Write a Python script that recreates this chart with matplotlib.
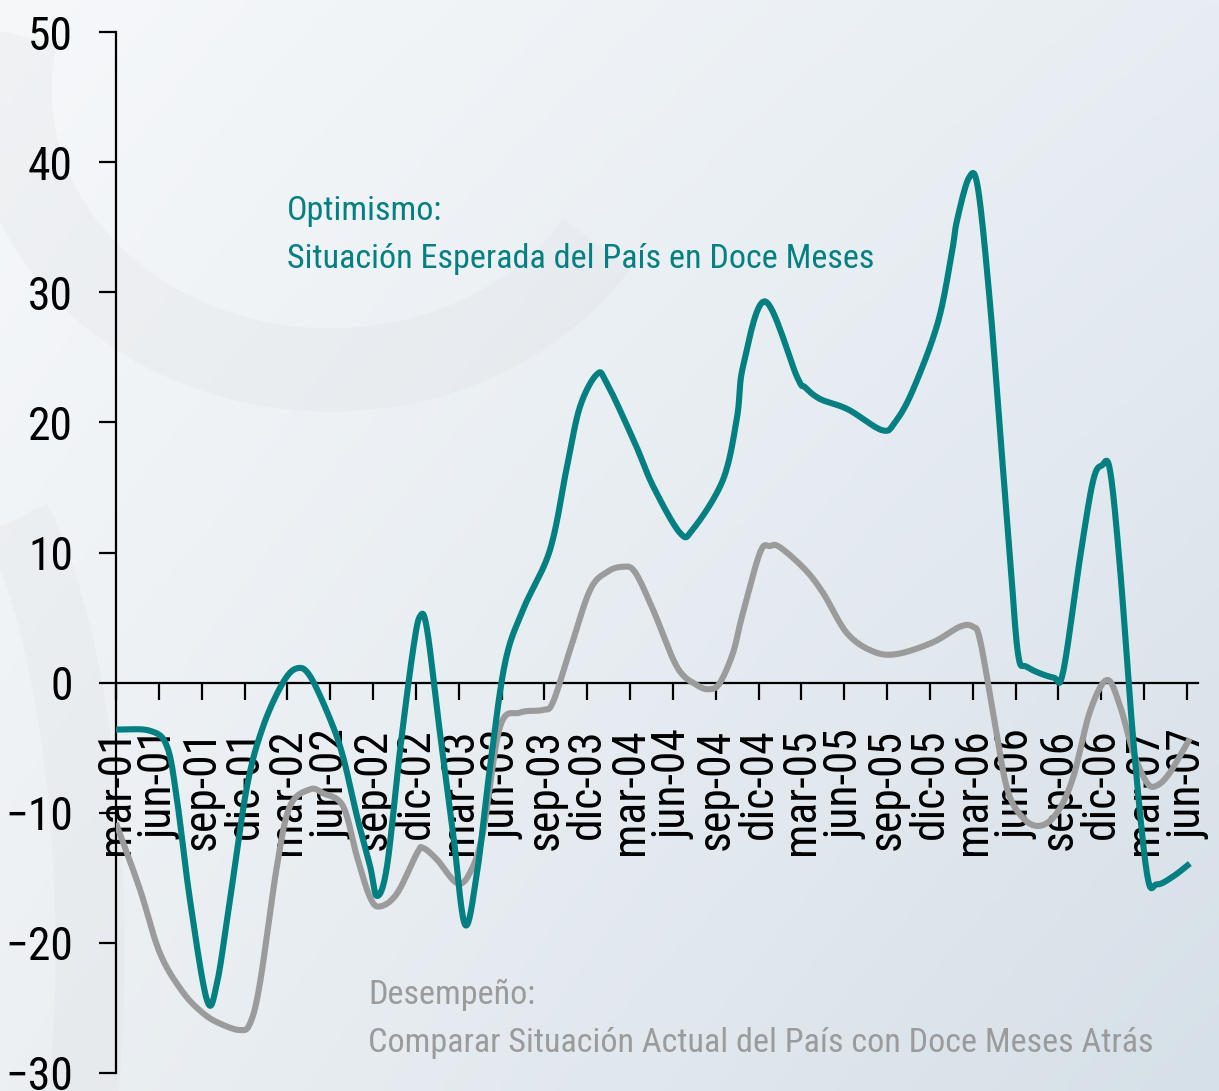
import numpy as np
import matplotlib
matplotlib.use("Agg")
import matplotlib.pyplot as plt
from matplotlib.patches import Arc
from matplotlib import font_manager as fm

# ---------------- data ----------------
# x positions: months since March 2001 (mar-01 = 0)
tick_labels = ["mar-01", "jun-01", "sep-01", "dic-01", "mar-02", "jun-02", "sep-02", "dic-02",
               "mar-03", "jun-03", "sep-03", "dic-03", "mar-04", "jun-04", "sep-04", "dic-04",
               "mar-05", "jun-05", "sep-05", "dic-05", "mar-06", "jun-06", "sep-06", "dic-06",
               "mar-07", "jun-07"]

opt_t = [0.00, 2.38, 3.57, 4.27, 5.18, 6.37, 7.07, 7.98, 9.17, 10.29, 11.69, 12.68, 13.59,
         14.99, 15.90, 16.88, 17.79, 18.28, 18.98, 19.89, 20.80, 21.29, 21.78, 22.69, 23.60,
         24.44, 25.28, 26.19, 27.24, 28.50, 30.39, 31.58, 32.49, 33.68, 34.38, 36.34, 37.61,
         39.50, 40.41, 42.51, 43.49, 43.91, 45.45, 47.69, 48.25, 49.30, 51.26, 53.64, 54.55,
         55.81, 57.56, 58.54, 58.89, 59.73, 60.36, 61.20, 61.90, 62.61, 63.17, 63.80, 65.62,
         66.32, 67.51, 68.42, 69.05, 69.61, 70.31, 71.22, 72.20, 72.90, 74.02, 75.20]
opt_v = [-3.6, -3.7, -4.9, -9.0, -16.7, -24.4, -23.1, -16.7, -8.0, -3.4, 0.0, 1.1, 0.5,
         -2.8, -5.7, -10.3, -14.1, -16.4, -14.1, -5.2, 2.5, 5.1, 4.1, -3.9, -11.5,
         -18.6, -14.6, -6.5, 1.5, 5.6, 10.2, 16.6, 21.2, 23.7, 23.0, 18.4, 15.1,
         11.5, 11.8, 15.6, 20.4, 24.3, 29.3, 23.5, 22.7, 21.8, 21.0, 19.4, 20.0,
         22.5, 27.7, 33.1, 35.5, 38.8, 38.0, 29.2, 19.4, 9.6, 2.2, 1.2, 0.4,
         0.8, 9.6, 15.5, 16.7, 16.3, 8.8, -4.2, -14.7, -15.5, -14.9, -13.9]

des_t = [0.00, 1.68, 3.08, 4.69, 6.09, 7.28, 8.68, 9.38, 10.08, 11.27, 12.18, 13.59, 14.50,
         15.90, 16.88, 17.79, 18.49, 19.68, 21.08, 21.50, 22.48, 23.88, 24.79, 25.70, 26.89,
         28.29, 29.90, 30.60, 31.79, 33.19, 34.38, 35.50, 36.34, 37.61, 39.29, 40.69, 41.60,
         42.30, 43.21, 43.84, 45.10, 45.80, 46.50, 48.25, 49.51, 51.19, 53.01, 54.69, 57.21,
         59.10, 60.01, 60.50, 61.41, 62.39, 63.52, 64.71, 65.90, 67.02, 68.21, 69.40, 70.31,
         71.22, 72.20, 72.90, 73.81, 75.20]
des_v = [-10.8, -15.9, -20.8, -23.8, -25.4, -26.2, -26.7, -26.2, -23.1, -14.1, -9.5, -8.2, -8.5,
         -9.5, -13.4, -16.5, -17.2, -16.2, -13.1, -12.7, -13.6, -15.4, -14.6, -11.5, -3.4,
         -2.3, -2.1, -1.5, 2.5, 7.1, 8.5, 8.9, 8.5, 5.6, 1.2, -0.2, -0.5,
         0.0, 2.3, 5.1, 10.0, 10.5, 10.4, 8.7, 6.9, 3.8, 2.4, 2.2, 3.1,
         4.3, 4.3, 3.3, -2.2, -8.1, -10.4, -11.0, -10.0, -7.3, -2.2, 0.2, -1.8,
         -5.3, -7.7, -7.9, -6.9, -4.3]

TEAL = "#008080"
GRAY = "#9b9b9b"


def pick_font():
    """Prefer a narrow sans font (like Arial Narrow); fall back to Liberation Sans."""
    prefs = ["Liberation Sans Narrow", "Arial Narrow", "Roboto Condensed", "Open Sans Condensed",
             "Noto Sans Condensed", "DejaVu Sans Condensed"]
    normal = [f for f in fm.fontManager.ttflist
              if f.style == "normal" and str(f.weight) in ("400", "normal", "regular", "book")]
    for p in prefs:
        for f in normal:
            if f.name == p:
                return fm.FontProperties(fname=f.fname)
    for f in normal:
        if f.stretch in ("condensed", "semi-condensed") and ("Sans" in f.name or "Roboto" in f.name):
            if "Mono" not in f.name and "Serif" not in f.name:
                return fm.FontProperties(fname=f.fname)
    return fm.FontProperties(family=["Liberation Sans", "DejaVu Sans"])


FP = pick_font()


def smooth(t, v, n=16):
    """Catmull-Rom smoothing for drawing (like a spreadsheet 'smoothed line')."""
    t = np.asarray(t, float)
    v = np.asarray(v, float)
    P = np.column_stack([t, v])
    P = np.vstack([2 * P[0] - P[1], P, 2 * P[-1] - P[-2]])
    out = []
    s = np.linspace(0, 1, n, endpoint=False)[:, None]
    for i in range(1, len(P) - 2):
        p0, p1, p2, p3 = P[i - 1], P[i], P[i + 1], P[i + 2]
        seg = 0.5 * ((2 * p1) + (-p0 + p2) * s + (2 * p0 - 5 * p1 + 4 * p2 - p3) * s ** 2
                     + (-p0 + 3 * p1 - 3 * p2 + p3) * s ** 3)
        out.append(seg)
    out.append(P[-2][None, :])
    out = np.vstack(out)
    return out[:, 0], out[:, 1]


W, H = 1219, 1091
fig = plt.figure(figsize=(W / 100, H / 100), dpi=100)
renderer = fig.canvas.get_renderer()


def fit_size(text, target_px, base=30.0):
    fp = FP.copy()
    fp.set_size(base)
    t = fig.text(0, 0, text, fontproperties=fp)
    w = t.get_window_extent(renderer).width
    t.remove()
    return base * target_px / w


tick_size = 0.5 * (fit_size("50", 45) + fit_size("mar-01", 127))
note_size = 0.5 * (fit_size("Situación Esperada del País en Doce Meses", 590)
                   + fit_size("Comparar Situación Actual del País con Doce Meses Atrás", 779))

# background gradient
bg = fig.add_axes([0, 0, 1, 1], zorder=-10)
yy, xx = np.mgrid[0:1:200j, 0:1:200j]
c_tl = np.array([246, 248, 250]) / 255
c_tr = np.array([231, 237, 242]) / 255
c_bl = np.array([236, 240, 243]) / 255
c_br = np.array([214, 224, 232]) / 255
img = ((1 - xx)[..., None] * (1 - yy)[..., None] * c_tl + xx[..., None] * (1 - yy)[..., None] * c_tr
       + (1 - xx)[..., None] * yy[..., None] * c_bl + xx[..., None] * yy[..., None] * c_br)
bg.imshow(img, extent=[0, W, H, 0], aspect="auto")
# faint watermark swooshes
for (cx, cy, w, h, a1, a2, lw) in [(330, 90, 640, 560, 30, 190, 60),
                                   (-60, 950, 300, 1000, 280, 420, 50)]:
    bg.add_patch(Arc((cx, cy), w, h, theta1=a1, theta2=a2, color="#d6d8da",
                     lw=lw, alpha=0.18))
bg.set_xlim(0, W)
bg.set_ylim(H, 0)
bg.axis("off")

ax = fig.add_axes([116 / W, 18 / H, (1198 - 116) / W, (1073 - 32) / H])
ax.patch.set_alpha(0)

x1, y1 = smooth(des_t, des_v)
x2, y2 = smooth(opt_t, opt_v)
ax.plot(x1, y1, color=GRAY, lw=4.4, solid_capstyle="butt", zorder=3)
ax.plot(x2, y2, color=TEAL, lw=4.4, solid_capstyle="butt", zorder=4)

ax.set_xlim(0, 75.77)
ax.set_ylim(-30, 50)
ax.set_yticks(np.arange(-30, 51, 10))
ax.set_xticks(np.arange(0, 76, 3))
ax.set_xticklabels(tick_labels)

for s in ["top", "right"]:
    ax.spines[s].set_visible(False)
ax.spines["bottom"].set_position(("data", 0))
for s in ["left", "bottom"]:
    ax.spines[s].set_linewidth(1.6)
    ax.spines[s].set_color("black")

ax.tick_params(axis="both", direction="out", length=12, width=1.6, color="black",
               labelcolor="black")
ax.tick_params(axis="y", pad=19)
ax.tick_params(axis="x", pad=21, labelrotation=90)
for lab in ax.get_xticklabels() + ax.get_yticklabels():
    lab.set_fontproperties(FP)
    lab.set_fontsize(tick_size)
for lab in ax.get_xticklabels():
    lab.set_verticalalignment("top")
    lab.set_horizontalalignment("center")
    lab.set_rotation_mode("default")

# annotations
def note(x, y, s, c):
    fig.text(x / W, 1 - y / H, s, color=c, fontproperties=FP, fontsize=note_size, va="baseline")


note(287, 220, "Optimismo:", TEAL)
note(287, 268, "Situación Esperada del País en Doce Meses", TEAL)
note(368, 1004, "Desempeño:", GRAY)
note(368, 1052, "Comparar Situación Actual del País con Doce Meses Atrás", GRAY)

fig.savefig("out.png", dpi=100)
